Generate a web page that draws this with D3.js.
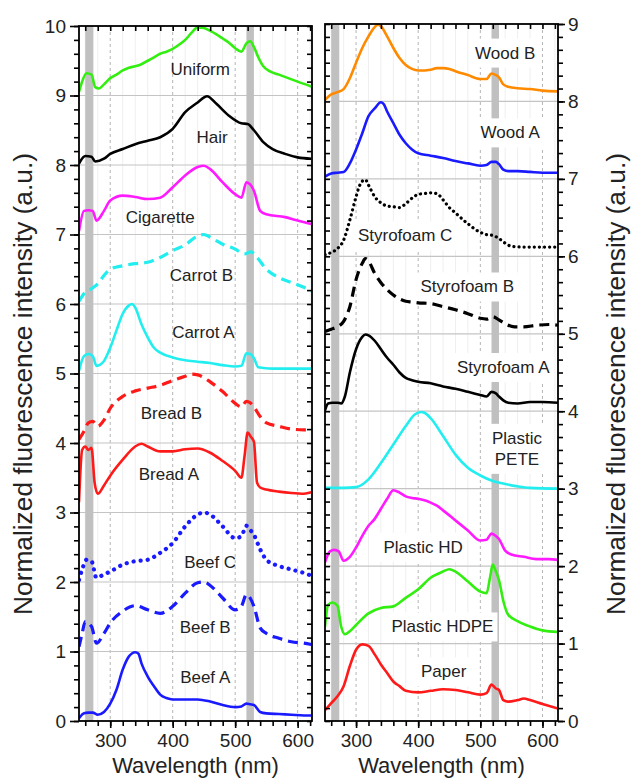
<!DOCTYPE html>
<html>
<head>
<meta charset="utf-8">
<script src="https://cdn.jsdelivr.net/npm/d3@7"></script>
<style>
  body { margin: 0; background: #fff; }
  svg { display: block; font-family: "Liberation Sans", Arial, sans-serif; }
</style>
</head>
<body>
<div id="chart"></div>
<script>
// spectra: [wavelength (nm), normalized intensity], each later shifted up by its offset

// left panel
const beefA = [[250,0.04],[258,0.11],[265,0.12],[272,0.12],[280,0.09],[290,0.13],[300,0.25],[310,0.45],[320,0.74],[330,0.93],[340,0.99],[345,0.97],[350,0.83],[360,0.64],[370,0.50],[380,0.38],[390,0.33],[400,0.31],[420,0.31],[440,0.31],[460,0.28],[480,0.23],[500,0.20],[510,0.21],[518,0.25],[524,0.24],[530,0.23],[540,0.13],[550,0.11],[570,0.10],[590,0.09],[610,0.08],[622,0.08]];
const beefB = [[250,0.07],[255,0.26],[260,0.43],[270,0.36],[278,0.12],[290,0.26],[300,0.41],[320,0.58],[340,0.66],[360,0.60],[380,0.55],[400,0.65],[420,0.84],[440,0.99],[450,1.0],[460,0.95],[480,0.77],[500,0.60],[510,0.65],[518,0.82],[524,0.77],[530,0.65],[540,0.34],[550,0.26],[570,0.19],[590,0.14],[610,0.12],[622,0.10]];
const beefC = [[250,0.03],[255,0.18],[262,0.32],[270,0.30],[278,0.06],[290,0.11],[300,0.15],[320,0.25],[340,0.30],[360,0.32],[380,0.42],[400,0.56],[420,0.80],[440,0.97],[450,1.0],[460,0.97],[480,0.80],[500,0.63],[510,0.66],[518,0.81],[524,0.75],[530,0.68],[540,0.47],[550,0.32],[570,0.23],[590,0.18],[610,0.13],[622,0.09]];
const breadA = [[250,0.15],[255,0.9],[260,0.95],[265,0.9],[270,0.93],[275,0.43],[280,0.27],[290,0.39],[300,0.53],[320,0.76],[340,0.95],[350,0.99],[360,0.95],[380,0.88],[400,0.88],[420,0.91],[440,0.92],[460,0.86],[480,0.74],[500,0.60],[510,0.50],[515,0.81],[520,1.15],[525,1.09],[530,1.02],[535,0.43],[540,0.36],[550,0.33],[570,0.30],[590,0.28],[610,0.27],[622,0.29]];
const breadB = [[250,0.05],[258,0.17],[265,0.29],[272,0.31],[280,0.24],[290,0.33],[300,0.50],[320,0.67],[340,0.75],[360,0.79],[380,0.83],[400,0.90],[420,0.96],[430,0.99],[440,0.98],[460,0.88],[480,0.74],[500,0.57],[510,0.52],[518,0.60],[524,0.58],[530,0.52],[540,0.38],[550,0.29],[570,0.24],[590,0.20],[610,0.19],[622,0.19]];
const carrotA = [[250,0.04],[258,0.25],[265,0.28],[272,0.25],[278,0.11],[290,0.18],[300,0.37],[310,0.62],[320,0.86],[330,0.98],[335,1.0],[340,0.95],[350,0.71],[360,0.52],[370,0.37],[380,0.30],[400,0.23],[420,0.19],[440,0.17],[460,0.15],[480,0.12],[500,0.10],[510,0.11],[518,0.29],[524,0.28],[530,0.22],[537,0.09],[545,0.08],[560,0.07],[622,0.07]];
const carrotB = [[250,0.04],[260,0.17],[270,0.22],[280,0.29],[290,0.41],[300,0.50],[320,0.55],[340,0.58],[360,0.60],[380,0.67],[400,0.77],[420,0.85],[440,0.98],[450,1.0],[460,0.96],[480,0.86],[500,0.79],[515,0.72],[525,0.75],[535,0.67],[550,0.50],[570,0.38],[590,0.31],[610,0.24],[622,0.19]];
const cigarette = [[250,0.05],[258,0.34],[265,0.35],[272,0.34],[278,0.2],[290,0.34],[300,0.49],[320,0.56],[340,0.54],[360,0.51],[380,0.53],[400,0.68],[420,0.85],[440,0.97],[450,0.99],[460,0.94],[480,0.75],[500,0.58],[510,0.53],[518,0.75],[524,0.72],[530,0.63],[540,0.34],[550,0.29],[580,0.25],[600,0.2],[622,0.15]];
const hair = [[250,0.02],[260,0.13],[270,0.12],[276,0.05],[290,0.09],[300,0.16],[320,0.23],[340,0.30],[360,0.35],[380,0.40],[400,0.52],[420,0.76],[440,0.90],[455,0.99],[470,0.88],[490,0.71],[510,0.60],[520,0.59],[530,0.50],[545,0.33],[560,0.23],[580,0.16],[600,0.11],[622,0.09]];
const uniform = [[250,0.05],[255,0.2],[262,0.32],[270,0.30],[276,0.12],[282,0.10],[290,0.16],[300,0.25],[310,0.30],[320,0.36],[330,0.40],[340,0.42],[350,0.45],[360,0.50],[370,0.55],[380,0.60],[390,0.63],[400,0.67],[410,0.73],[420,0.80],[430,0.90],[440,0.98],[450,0.97],[460,0.93],[470,0.88],[480,0.82],[490,0.76],[500,0.68],[510,0.63],[518,0.75],[524,0.78],[530,0.70],[537,0.55],[545,0.42],[555,0.35],[570,0.30],[585,0.25],[600,0.20],[622,0.13]];

// right panel
const paper = [[250,0.14],[260,0.23],[270,0.32],[280,0.45],[290,0.71],[300,0.92],[310,0.99],[320,0.97],[330,0.86],[340,0.73],[350,0.62],[360,0.51],[370,0.45],[380,0.39],[400,0.37],[420,0.39],[440,0.41],[460,0.40],[480,0.37],[500,0.34],[510,0.36],[518,0.47],[525,0.42],[530,0.40],[537,0.27],[545,0.25],[560,0.27],[570,0.29],[580,0.27],[600,0.22],[625,0.16]];
const plasticHDPE = [[250,0.22],[255,0.50],[262,0.53],[270,0.49],[276,0.22],[282,0.12],[290,0.16],[300,0.24],[320,0.39],[340,0.46],[360,0.48],[380,0.59],[400,0.70],[420,0.85],[440,0.93],[450,0.96],[460,0.93],[480,0.80],[500,0.67],[510,0.65],[516,0.87],[520,1.02],[525,0.93],[530,0.82],[537,0.55],[545,0.37],[560,0.29],[580,0.22],[600,0.17],[625,0.15]];
const plasticHD = [[250,0.05],[258,0.19],[265,0.21],[272,0.19],[280,0.07],[290,0.12],[300,0.24],[310,0.39],[320,0.52],[330,0.61],[340,0.74],[350,0.87],[360,0.98],[370,0.95],[380,0.90],[390,0.88],[400,0.87],[410,0.85],[420,0.82],[430,0.78],[440,0.72],[460,0.59],[480,0.46],[500,0.33],[510,0.34],[518,0.42],[525,0.39],[530,0.35],[540,0.20],[550,0.15],[570,0.12],[590,0.09],[610,0.09],[625,0.08]];
const plasticPETE = [[250,0.01],[280,0.01],[300,0.02],[320,0.12],[340,0.33],[360,0.57],[380,0.81],[395,0.96],[405,0.99],[410,0.98],[420,0.91],[440,0.68],[460,0.44],[480,0.27],[500,0.17],[520,0.10],[540,0.06],[560,0.03],[580,0.01],[625,0.0]];
const styrofoamA = [[250,0.01],[255,0.10],[262,0.11],[270,0.11],[276,0.10],[282,0.19],[290,0.50],[300,0.80],[310,0.96],[315,0.99],[320,0.98],[330,0.91],[340,0.80],[350,0.69],[360,0.60],[370,0.50],[380,0.43],[390,0.40],[400,0.38],[420,0.36],[440,0.32],[460,0.29],[480,0.25],[500,0.21],[510,0.19],[518,0.25],[525,0.23],[530,0.19],[537,0.14],[545,0.11],[560,0.10],[580,0.12],[600,0.12],[625,0.11]];
const styrofoamB = [[250,0.03],[260,0.06],[270,0.09],[280,0.16],[290,0.35],[300,0.70],[310,0.91],[315,0.97],[320,0.94],[330,0.78],[340,0.66],[350,0.57],[360,0.50],[370,0.45],[380,0.42],[390,0.41],[400,0.40],[420,0.39],[440,0.35],[460,0.31],[480,0.26],[500,0.20],[510,0.19],[520,0.22],[530,0.18],[540,0.13],[555,0.09],[570,0.09],[590,0.11],[610,0.12],[625,0.11]];
const styrofoamC = [[250,0.02],[260,0.05],[270,0.10],[280,0.21],[290,0.47],[300,0.77],[305,0.90],[310,0.97],[315,0.99],[320,0.92],[330,0.77],[340,0.69],[350,0.65],[360,0.64],[370,0.63],[380,0.68],[390,0.75],[400,0.80],[410,0.81],[420,0.82],[430,0.81],[440,0.73],[450,0.63],[460,0.56],[480,0.42],[500,0.31],[510,0.28],[520,0.27],[530,0.23],[540,0.17],[550,0.13],[570,0.12],[590,0.12],[610,0.12],[625,0.12]];
const woodA = [[250,0.03],[260,0.07],[270,0.08],[280,0.09],[290,0.20],[300,0.38],[310,0.59],[320,0.81],[330,0.91],[340,0.99],[345,0.96],[350,0.87],[360,0.72],[370,0.57],[380,0.46],[390,0.38],[400,0.33],[420,0.30],[440,0.27],[460,0.23],[480,0.20],[500,0.17],[510,0.18],[518,0.22],[525,0.22],[530,0.19],[537,0.12],[545,0.10],[560,0.10],[580,0.09],[600,0.08],[625,0.08]];
const woodB = [[250,0.02],[260,0.09],[270,0.12],[280,0.16],[290,0.30],[300,0.50],[310,0.69],[320,0.84],[330,0.96],[335,0.99],[340,0.97],[350,0.84],[360,0.69],[370,0.56],[380,0.47],[390,0.42],[400,0.40],[410,0.40],[420,0.41],[430,0.43],[440,0.43],[450,0.42],[460,0.39],[480,0.34],[500,0.29],[510,0.29],[518,0.36],[525,0.34],[530,0.31],[537,0.22],[545,0.19],[560,0.17],[580,0.16],[600,0.14],[625,0.13]];

// series meta (offset = index)
const leftNames = ["Beef A", "Beef B", "Beef C", "Bread A", "Bread B", "Carrot A", "Carrot B", "Cigarette", "Hair", "Uniform"];
const leftData = [beefA, beefB, beefC, breadA, breadB, carrotA, carrotB, cigarette, hair, uniform];
const leftColors = ["#1a1aff", "#1a1aff", "#1a1aff", "#ff1a1a", "#ff1a1a", "#22eef0", "#22eef0", "#ff1aff", "#000000", "#33ee11"];
const leftStyles = ["solid", "dash", "dot", "solid", "dash", "solid", "dash", "solid", "solid", "solid"];
const leftLabelAt = [[452,0.63],[452,1.35],[460,2.29],[394,3.55],[398,4.43],[449,5.6],[446,6.41],[380,7.25],[463,8.4],[444,9.38]];

const rightNames = ["Paper", "Plastic HDPE", "Plastic HD", "Plastic|PETE", "Styrofoam A", "Styrofoam B", "Styrofoam C", "Wood A", "Wood B"];
const rightData = [paper, plasticHDPE, plasticHD, plasticPETE, styrofoamA, styrofoamB, styrofoamC, woodA, woodB];
const rightColors = ["#ff1a1a", "#33ee11", "#ff1aff", "#22eef0", "#000000", "#000000", "#000000", "#1a1aff", "#ff8a00"];
const rightStyles = ["solid", "solid", "solid", "solid", "solid", "dash", "dotsmall", "solid", "solid"];
const rightLabelAt = [[441,0.64],[439,1.22],[408,2.25],[559,3.52],[537,4.57],[479,5.61],[379,6.27],[548,7.6],[540,8.63]];

const bands = [[260, 273], [518, 530]];

const W = 631, H = 783;
const svg = d3.select("#chart").append("svg").attr("width", W).attr("height", H);

const dashes = { solid: null, dash: "10,6", dot: "0.1,7", dotsmall: "0.1,5" };
const widths = { solid: 2.6, dash: 3.2, dot: 4.2, dotsmall: 3.2 };

drawPanel({
  id: "left",
  x: d3.scaleLinear([250, 623], [79, 312]),
  y: d3.scaleLinear([0, 10], [721, 26]),
  yMax: 10, yMinorPerUnit: 5,
  names: leftNames, data: leftData, colors: leftColors, styles: leftStyles, labelAt: leftLabelAt,
  labelBoxes: false, labelsSide: "left"
});
drawPanel({
  id: "right",
  x: d3.scaleLinear([250, 625], [325, 558]),
  y: d3.scaleLinear([0, 9], [721, 24]),
  yMax: 9, yMinorPerUnit: 6,
  names: rightNames, data: rightData, colors: rightColors, styles: rightStyles, labelAt: rightLabelAt,
  labelBoxes: true, labelsSide: "right"
});

// axis titles
const yTitle = "Normalized fluorescence intensity (a.u.)";
svg.append("text").attr("transform", "translate(32,384) rotate(-90)")
  .attr("text-anchor", "middle").attr("font-size", 26).attr("fill", "#222")
  .attr("textLength", 462).attr("lengthAdjust", "spacingAndGlyphs").text(yTitle);
svg.append("text").attr("transform", "translate(625,384) rotate(-90)")
  .attr("text-anchor", "middle").attr("font-size", 26).attr("fill", "#222")
  .attr("textLength", 462).attr("lengthAdjust", "spacingAndGlyphs").text(yTitle);
svg.append("text").attr("x", 195.5).attr("y", 773)
  .attr("text-anchor", "middle").attr("font-size", 22).attr("fill", "#222").text("Wavelength (nm)");
svg.append("text").attr("x", 441.5).attr("y", 773)
  .attr("text-anchor", "middle").attr("font-size", 22).attr("fill", "#222").text("Wavelength (nm)");

function drawPanel(p) {
  const x = p.x, y = p.y;
  const [x0, x1] = x.range();
  const [yb, yt] = y.range();
  const xMax = x.domain()[1];

  svg.append("clipPath").attr("id", "clip-" + p.id)
    .append("rect").attr("x", x0).attr("y", yt).attr("width", x1 - x0).attr("height", yb - yt);

  const g = svg.append("g");

  // faint minor verticals
  g.append("g").selectAll("line").data(d3.range(260, xMax, 20).filter(d => d % 100 != 0)).join("line")
    .attr("x1", d => x(d)).attr("x2", d => x(d)).attr("y1", yt).attr("y2", yb)
    .attr("stroke", "#efefef").attr("stroke-width", 1);
  // dashed major verticals
  g.append("g").selectAll("line").data([300, 400, 500, 600]).join("line")
    .attr("x1", d => x(d)).attr("x2", d => x(d)).attr("y1", yt).attr("y2", yb)
    .attr("stroke", "#b5b5b5").attr("stroke-width", 1).attr("stroke-dasharray", "3,3");
  // horizontal grid
  g.append("g").selectAll("line").data(d3.range(1, p.yMax)).join("line")
    .attr("x1", x0).attr("x2", x1).attr("y1", d => y(d)).attr("y2", d => y(d))
    .attr("stroke", "#c4c4c4").attr("stroke-width", 1.2);

  // excitation bands
  g.append("g").selectAll("rect").data(bands).join("rect")
    .attr("x", d => x(d[0])).attr("width", d => x(d[1]) - x(d[0]))
    .attr("y", yt).attr("height", yb - yt).attr("fill", "#c0c0c0");

  const boxG = g.append("g");
  const lineG = g.append("g").attr("clip-path", `url(#clip-${p.id})`);
  const labelG = g.append("g");

  // labels
  p.names.forEach((name, i) => {
    const lines = name.split("|");
    const [lx, ly] = p.labelAt[i];
    lines.forEach((t, k) => {
      const dy = (k - (lines.length - 1) / 2) * 21;
      labelG.append("text")
        .attr("x", x(lx)).attr("y", y(ly) + dy)
        .attr("dy", "0.35em").attr("text-anchor", "middle")
        .attr("font-size", 17).attr("fill", "#222").text(t);
    });
  });
  if (p.labelBoxes) {
    labelG.selectAll("text").each(function () {
      const b = this.getBBox();
      boxG.append("rect").attr("x", b.x - 4).attr("y", b.y - 5)
        .attr("width", b.width + 8).attr("height", b.height + 10).attr("fill", "#fff");
    });
  }

  // spectra
  const line = d3.line().curve(d3.curveMonotoneX);
  p.data.forEach((s, i) => {
    const st = p.styles[i];
    lineG.append("path")
      .attr("d", line(s.map(d => [x(d[0]), y(d[1] + i)])))
      .attr("fill", "none").attr("stroke", p.colors[i])
      .attr("stroke-width", widths[st])
      .attr("stroke-dasharray", dashes[st])
      .attr("stroke-linecap", st.startsWith("dot") ? "round" : "butt")
      .attr("stroke-linejoin", "round");
  });

  // axes
  const yMinor = d3.range(0, p.yMax * p.yMinorPerUnit + 1).map(k => k / p.yMinorPerUnit);
  const yMajor = d3.range(0, p.yMax + 1);
  const xMinor = d3.range(260, xMax + 0.1, 20);
  const xMajor = [300, 400, 500, 600];
  const style = a => a.call(s => s.select(".domain").remove())
    .call(s => s.selectAll("line").attr("stroke", "#000").attr("stroke-width", 1.6))
    .call(s => s.selectAll("text").attr("font-size", 19).attr("fill", "#222"))
    .attr("font-family", null).attr("font-size", null);

  const ax = svg.append("g");
  // bottom (outward)
  ax.append("g").attr("transform", `translate(0,${yb})`)
    .call(d3.axisBottom(x).tickValues(xMinor).tickSize(5).tickFormat("")).call(style);
  ax.append("g").attr("transform", `translate(0,${yb})`)
    .call(d3.axisBottom(x).tickValues(xMajor).tickSize(7).tickPadding(6).tickFormat(d3.format("d"))).call(style);
  // top (inward)
  ax.append("g").attr("transform", `translate(0,${yt})`)
    .call(d3.axisBottom(x).tickValues(xMinor).tickSize(5).tickFormat("")).call(style);

  if (p.labelsSide == "left") {
    ax.append("g").attr("transform", `translate(${x0},0)`)
      .call(d3.axisLeft(y).tickValues(yMinor).tickSize(5).tickFormat("")).call(style);
    ax.append("g").attr("transform", `translate(${x0},0)`)
      .call(d3.axisLeft(y).tickValues(yMajor).tickSize(9).tickPadding(4).tickFormat(d3.format("d"))).call(style);
    ax.append("g").attr("transform", `translate(${x1},0)`)
      .call(d3.axisLeft(y).tickValues(yMinor).tickSize(5).tickFormat("")).call(style);
  } else {
    ax.append("g").attr("transform", `translate(${x0},0)`)
      .call(d3.axisRight(y).tickValues(yMinor).tickSize(5).tickFormat("")).call(style);
    ax.append("g").attr("transform", `translate(${x1},0)`)
      .call(d3.axisRight(y).tickValues(yMinor).tickSize(5).tickFormat("")).call(style);
    ax.append("g").attr("transform", `translate(${x1},0)`)
      .call(d3.axisRight(y).tickValues(yMajor).tickSize(7).tickPadding(3).tickFormat(d3.format("d"))).call(style);
  }

  // frame
  ax.append("rect").attr("x", x0).attr("y", yt).attr("width", x1 - x0).attr("height", yb - yt)
    .attr("fill", "none").attr("stroke", "#000").attr("stroke-width", 1.8);
}
</script>
</body>
</html>
